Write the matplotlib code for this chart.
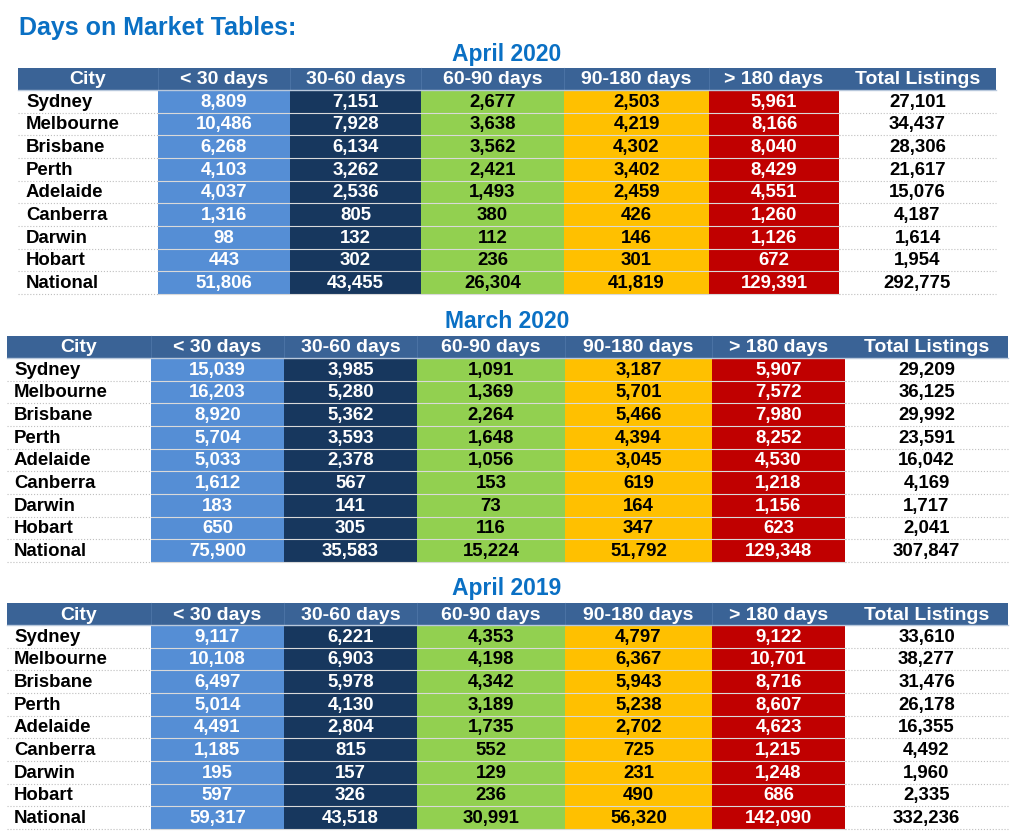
import matplotlib.pyplot as plt
from matplotlib.patches import Rectangle

plt.rcParams['font.family'] = ['Liberation Sans', 'DejaVu Sans']

cities = ["Sydney", "Melbourne", "Brisbane", "Perth", "Adelaide",
          "Canberra", "Darwin", "Hobart", "National"]
headers = ["City", "< 30 days", "30-60 days", "60-90 days",
           "90-180 days", "> 180 days", "Total Listings"]

april_2020 = [
    [8809, 7151, 2677, 2503, 5961, 27101],
    [10486, 7928, 3638, 4219, 8166, 34437],
    [6268, 6134, 3562, 4302, 8040, 28306],
    [4103, 3262, 2421, 3402, 8429, 21617],
    [4037, 2536, 1493, 2459, 4551, 15076],
    [1316, 805, 380, 426, 1260, 4187],
    [98, 132, 112, 146, 1126, 1614],
    [443, 302, 236, 301, 672, 1954],
    [51806, 43455, 26304, 41819, 129391, 292775],
]
march_2020 = [
    [15039, 3985, 1091, 3187, 5907, 29209],
    [16203, 5280, 1369, 5701, 7572, 36125],
    [8920, 5362, 2264, 5466, 7980, 29992],
    [5704, 3593, 1648, 4394, 8252, 23591],
    [5033, 2378, 1056, 3045, 4530, 16042],
    [1612, 567, 153, 619, 1218, 4169],
    [183, 141, 73, 164, 1156, 1717],
    [650, 305, 116, 347, 623, 2041],
    [75900, 35583, 15224, 51792, 129348, 307847],
]
april_2019 = [
    [9117, 6221, 4353, 4797, 9122, 33610],
    [10108, 6903, 4198, 6367, 10701, 38277],
    [6497, 5978, 4342, 5943, 8716, 31476],
    [5014, 4130, 3189, 5238, 8607, 26178],
    [4491, 2804, 1735, 2702, 4623, 16355],
    [1185, 815, 552, 725, 1215, 4492],
    [195, 157, 129, 231, 1248, 1960],
    [597, 326, 236, 490, 686, 2335],
    [59317, 43518, 30991, 56320, 142090, 332236],
]

# fill / text colour per value column
col_fill = ["#558ed5", "#17375e", "#92d050", "#ffc000", "#c00000", "white"]
col_text = ["white", "white", "black", "black", "white", "black"]
header_fill = "#3a6396"
blue = "#0a70c4"

# layout in pixels: (subtitle, column edges, header top, city text x)
tables = [
    ("April 2020", april_2020, [18, 158, 290, 421, 564, 709, 839, 996], 68, 26),
    ("March 2020", march_2020, [7, 151, 284, 417, 565, 712, 845, 1008], 336, 14),
    ("April 2019", april_2019, [7, 151, 284, 417, 565, 712, 845, 1008], 603, 14),
]
header_h = 22
row_h = 22.65

fig = plt.figure(figsize=(10.24, 8.35), dpi=100)
ax = fig.add_axes([0, 0, 1, 1])
ax.set_xlim(0, 1024)
ax.set_ylim(835, 0)
ax.axis("off")

ax.text(19, 28, "Days on Market Tables:", fontsize=18, fontweight="bold",
        color=blue, ha="left", va="center")

for title, data, edges, top, cx in tables:
    ax.text(507, top - 14, title, fontsize=16.5, fontweight="bold",
            color=blue, ha="center", va="center")
    # header
    ax.add_patch(Rectangle((edges[0], top), edges[-1] - edges[0], header_h,
                           facecolor=header_fill, edgecolor="none"))
    for j, h in enumerate(headers):
        ax.text((edges[j] + edges[j + 1]) / 2, top + header_h / 2 + 1, h,
                fontsize=14, fontweight="bold", color="white",
                ha="center", va="center")
    for j in range(1, len(headers) - 1):
        ax.plot([edges[j], edges[j]], [top, top + header_h], color="#4a72a4", lw=0.8)
    ax.plot([edges[0], edges[-1]], [top + header_h, top + header_h],
            color="#b8c8dc", lw=1)

    y0 = top + header_h
    for i, city in enumerate(cities):
        y = y0 + i * row_h
        ax.text(cx, y + row_h / 2 + 1, city, fontsize=13.4, fontweight="bold",
                color="black", ha="left", va="center")
        for j, v in enumerate(data[i]):
            x0, x1 = edges[j + 1], edges[j + 2]
            ax.add_patch(Rectangle((x0, y), x1 - x0, row_h,
                                   facecolor=col_fill[j], edgecolor="none"))
            ax.text((x0 + x1) / 2, y + row_h / 2 + 1, f"{v:,}", fontsize=13.4,
                    fontweight="bold", color=col_text[j],
                    ha="center", va="center")
        yb = y + row_h
        ax.plot([edges[0], edges[1]], [yb, yb], color="#bfbfbf", lw=0.8, ls=":")
        ax.plot([edges[1], edges[6]], [yb, yb], color="#d9d9d9", lw=0.8)
        ax.plot([edges[6], edges[7]], [yb, yb], color="#bfbfbf", lw=0.8, ls=":")

fig.savefig("out.png", dpi=100)
